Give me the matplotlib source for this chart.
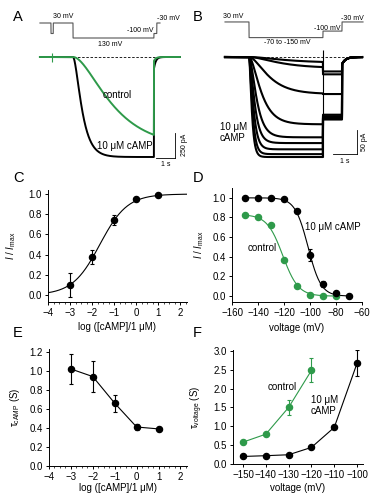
import numpy as np
import matplotlib.pyplot as plt
from matplotlib.ticker import FormatStrFormatter, MultipleLocator

plt.rcParams['font.family'] = ['Liberation Sans', 'DejaVu Sans']
plt.rcParams['mathtext.fontset'] = 'custom'
plt.rcParams['mathtext.rm'] = 'Liberation Sans'
plt.rcParams['mathtext.it'] = 'Liberation Sans:italic'
plt.rcParams['font.size'] = 7

GREEN = '#2e9a4a'
FS = 7

# A: currents at -130 mV (pA, s)
a_amp = [1000, 900]          # 10 uM cAMP, control
a_tau = [0.37, 1.6]
a_tail = [120, 40]
a_on, a_off = 1.0, 5.26      # step times (s)
a_pre = -0.1                 # short pre-pulse

# B: family of currents, steps -70 to -150 mV (pA, s)
b_amp = [12, 23, 77, 140, 167, 179, 192, 202, 208]
b_tau = [1.2, 1.0, 0.65, 0.4, 0.25, 0.18, 0.14, 0.11, 0.09]
b_tail = [30, 36, 77, 120, 123, 125, 127, 128, 130]
b_on, b_off, b_end = 1.0, 4.08, 4.875

# C: cAMP dose response
c_log = [-3, -2, -1, 0, 1]
c_norm = [0.10, 0.38, 0.74, 0.95, 0.99]
c_err = [0.12, 0.07, 0.05, 0.02, 0.01]
c_mid, c_hill = -1.65, 0.70

# D: activation curves
d_volt = [-150, -140, -130, -120, -110, -100, -90, -80, -70]
d_camp = [1.0, 1.0, 1.0, 0.99, 0.87, 0.42, 0.12, 0.03, 0.0]
d_camp_err = [0.0, 0.0, 0.0, 0.01, 0.02, 0.06, 0.03, 0.01, 0.0]
d_volt_ctrl = [-150, -140, -130, -120, -110, -100, -90, -80]
d_ctrl = [0.83, 0.81, 0.72, 0.37, 0.10, 0.01, 0.0, 0.0]
d_fit_camp = (1.0, -101.5, 5.0)
d_fit_ctrl = (0.83, -121.0, 6.0)

# E: time constant vs cAMP
e_log = [-3, -2, -1, 0, 1]
e_tau = [1.02, 0.94, 0.66, 0.41, 0.39]
e_err = [0.16, 0.16, 0.09, 0.035, 0.02]

# F: time constant vs voltage
f_volt_ctrl = [-150, -140, -130, -120]
f_tau_ctrl = [0.58, 0.79, 1.50, 2.48]
f_err_ctrl = [0.04, 0.04, 0.20, 0.32]
f_volt_camp = [-150, -140, -130, -120, -110, -100]
f_tau_camp = [0.20, 0.22, 0.245, 0.44, 0.97, 2.67]
f_err_camp = [0.02, 0.02, 0.02, 0.03, 0.05, 0.35]

W, H = 384, 500
fig = plt.figure(figsize=(W / 100, H / 100), dpi=100)


def add_ax(x0, y0, x1, y1):
    return fig.add_axes([x0 / W, 1 - y1 / H, (x1 - x0) / W, (y1 - y0) / H])


def ptext(x, y, s, **kw):
    kw.setdefault('ha', 'center')
    kw.setdefault('va', 'center')
    fig.text(x / W, 1 - y / H, s, **kw)


def style(ax):
    ax.spines['top'].set_visible(False)
    ax.spines['right'].set_visible(False)
    ax.spines['left'].set_linewidth(0.7)
    ax.spines['bottom'].set_linewidth(0.7)
    ax.tick_params(direction='out', length=2.5, width=0.7, labelsize=FS, pad=2)
    ax.tick_params(which='minor', direction='out', length=1.5, width=0.5)


def hh(t, t0, amp, tau):
    s = np.clip(t - t0, 0, None)
    return -amp * (1 - np.exp(-s / tau)) ** 2


# ---- A protocol ----
ax = add_ax(35, 5, 190, 50)
ax.axis('off')
ax.set_xlim(-1.0, 7.16)
ax.set_ylim(-210, 90)
tp = np.linspace(-0.74, 5.58, 2000)
vp = np.full_like(tp, -30.0)
vp[(tp >= a_pre - 0.06) & (tp < a_pre + 0.06)] = -100
vp[(tp >= a_on) & (tp < a_off)] = -130
vp[(tp >= a_off) & (tp < a_off + 0.15)] = -100
ax.plot(tp, vp, color='#555555', lw=0.8)

# ---- A traces ----
ax = add_ax(35, 45, 190, 170)
ax.axis('off')
ax.set_xlim(-1.0, 7.16)
ax.set_ylim(-1130, 120)
t = np.linspace(-0.74, 6.63, 3000)
ax.plot([-0.74, 6.63], [0, 0], color='k', lw=0.6, ls=(0, (3, 2)))
for amp, tau, tail, col in zip(a_amp, a_tau, a_tail, ['k', GREEN]):
    cur = hh(t, a_on, amp, tau)
    after = t >= a_off
    cur[after] = -tail * np.exp(-(t[after] - a_off) / 0.1)
    ax.plot(t, cur, color=col, lw=1.4)
ax.vlines(a_pre, -50, 40, color=GREEN, lw=0.8)
# scale bars
ax.plot([6.37, 6.37], [-760, -1010], color='k', lw=0.6)
ax.plot([5.37, 6.37], [-1010, -1010], color='k', lw=0.6)
ptext(184, 145, '250 pA', rotation=90, fontsize=5)
ptext(166, 164, '1 s', fontsize=5)
ptext(117, 95, 'control', fontsize=FS)
ptext(125, 146, '10 μM cAMP', fontsize=FS)
ptext(63, 17, '30 mV', fontsize=5)
ptext(140, 30, '-100 mV', fontsize=5)
ptext(168, 18, '-30 mV', fontsize=5)
ptext(110, 45, '130 mV', fontsize=5)

# ---- B protocol ----
ax = add_ax(215, 5, 375, 50)
ax.axis('off')
ax.set_xlim(-0.417, 6.25)
ax.set_ylim(-245, 100)
tp = np.linspace(0.0, 5.75, 2000)
vp = np.full_like(tp, -30.0)
vp[(tp >= b_on) & (tp < b_off)] = -150
vp[(tp >= b_off) & (tp < b_end)] = -100
ax.plot(tp, vp, color='#555555', lw=0.8)
ptext(233, 16, '30 mV', fontsize=5)
ptext(287, 43, '-70 to -150 mV', fontsize=5)
ptext(327, 28, '-100 mV', fontsize=5)
ptext(352, 18, '-30 mV', fontsize=5)

# ---- B traces ----
ax = add_ax(215, 45, 375, 170)
ax.axis('off')
ax.set_xlim(-0.417, 6.25)
ax.set_ylim(-235, 25)
t = np.linspace(0.0, 5.71, 3000)
ax.plot([0.0, 5.71], [0, 0], color='k', lw=0.6, ls=(0, (3, 2)))
for amp, tau, tail in zip(b_amp, b_tau, b_tail):
    cur = hh(t, b_on, amp, tau)
    tl = (t >= b_off) & (t < b_end)
    cur[tl] = -tail
    after = t >= b_end
    cur[after] = -15 * np.exp(-(t[after] - b_end) / 0.15)
    ax.plot(t, cur, color='k', lw=1.5)
ax.vlines(b_off, -208, 15, color='k', lw=0.8)
ax.plot([5.5, 5.5], [-152, -202], color='k', lw=0.6)
ax.plot([4.5, 5.5], [-202, -202], color='k', lw=0.6)
ptext(365, 142, '50 pA', rotation=90, fontsize=5)
ptext(345, 161, '1 s', fontsize=5)
ptext(220, 127, '10 μM', fontsize=FS, ha='left')
ptext(220, 138, 'cAMP', fontsize=FS, ha='left')

# ---- C ----
ax = add_ax(48, 190, 187, 302)
style(ax)
xf = np.linspace(-4, 2.3, 300)
ax.plot(xf, 1 / (1 + 10 ** ((c_mid - xf) * c_hill)), color='k', lw=0.8)
ax.errorbar(c_log, c_norm, yerr=c_err, fmt='o', color='k', ms=4.4,
            elinewidth=0.8, capsize=1.5, capthick=0.8, zorder=3)
ax.set_xlim(-4, 2.3)
ax.set_ylim(-0.07, 1.04)
ax.set_xticks(range(-4, 3))
ax.set_yticks(np.arange(0, 1.01, 0.2))
ax.yaxis.set_major_formatter(FormatStrFormatter('%.1f'))
ax.xaxis.set_minor_locator(MultipleLocator(0.25))
ax.set_xlabel('log ([cAMP]/1 μM)', fontsize=FS)
ax.set_ylabel(r'$I$ / $I_{\mathrm{max}}$', fontsize=FS)
ax.xaxis.set_label_coords(0.5, -0.18)
ax.yaxis.set_label_coords(-0.216, 0.5)

# ---- D ----
ax = add_ax(232, 188, 362, 302)
style(ax)
for (amp, vh, k), col, v in [(d_fit_camp, 'k', (-150, -70)), (d_fit_ctrl, GREEN, (-150, -80))]:
    vf = np.linspace(v[0], v[1], 300)
    ax.plot(vf, amp / (1 + np.exp((vf - vh) / k)), color=col, lw=0.8)
ax.plot(d_volt_ctrl, d_ctrl, 'o', color=GREEN, ms=4.4, zorder=3)
ax.errorbar(d_volt, d_camp, yerr=d_camp_err, fmt='o', color='k', ms=4.4,
            elinewidth=0.8, capsize=1.5, capthick=0.8, zorder=4)
ax.set_xlim(-160, -60)
ax.set_ylim(-0.06, 1.1)
ax.set_xticks(range(-160, -59, 20))
ax.set_yticks(np.arange(0, 1.01, 0.2))
ax.yaxis.set_major_formatter(FormatStrFormatter('%.1f'))
ax.set_xlabel('voltage (mV)', fontsize=FS)
ax.set_ylabel(r'$I$ / $I_{\mathrm{max}}$', fontsize=FS)
ax.xaxis.set_label_coords(0.5, -0.184)
ax.yaxis.set_label_coords(-0.2, 0.5)
ptext(333, 227, '10 μM cAMP', fontsize=FS)
ptext(262, 248, 'control', fontsize=FS)

# ---- E ----
ax = add_ax(49, 349, 187, 466)
style(ax)
ax.errorbar(e_log, e_tau, yerr=e_err, fmt='o-', color='k', ms=4.4, lw=0.8,
            elinewidth=0.8, capsize=1.5, capthick=0.8)
ax.set_xlim(-4, 2.3)
ax.set_ylim(0, 1.23)
ax.set_xticks(range(-4, 3))
ax.set_yticks(np.arange(0, 1.21, 0.2))
ax.yaxis.set_major_formatter(FormatStrFormatter('%.1f'))
ax.xaxis.set_minor_locator(MultipleLocator(0.25))
ax.set_xlabel('log ([cAMP]/1 μM)', fontsize=FS)
ax.set_ylabel(r'τ$_{\mathrm{cAMP}}$ (S)', fontsize=FS)
ax.xaxis.set_label_coords(0.5, -0.145)
ax.yaxis.set_label_coords(-0.197, 0.5)

# ---- F ----
ax = add_ax(233, 350, 363, 464)
style(ax)
ax.errorbar(f_volt_ctrl, f_tau_ctrl, yerr=f_err_ctrl, fmt='o-', color=GREEN, ms=4.4,
            lw=0.8, elinewidth=0.8, capsize=1.5, capthick=0.8)
ax.errorbar(f_volt_camp, f_tau_camp, yerr=f_err_camp, fmt='o-', color='k', ms=4.4,
            lw=0.8, elinewidth=0.8, capsize=1.5, capthick=0.8)
ax.set_xlim(-154.4, -97.4)
ax.set_ylim(0, 3.02)
ax.set_xticks(range(-150, -99, 10))
ax.set_yticks(np.arange(0, 3.01, 0.5))
ax.yaxis.set_major_formatter(FormatStrFormatter('%.1f'))
ax.set_xlabel('voltage (mV)', fontsize=FS)
ax.set_ylabel(r'τ$_{\mathrm{voltage}}$ (S)', fontsize=FS)
ax.xaxis.set_label_coords(0.5, -0.167)
ax.yaxis.set_label_coords(-0.215, 0.5)
ptext(282, 387, 'control', fontsize=FS)
ptext(311, 400, '10 μM', fontsize=FS, ha='left')
ptext(311, 411, 'cAMP', fontsize=FS, ha='left')

# panel letters
for lab, x, y in [('A', 18, 17), ('B', 198, 17), ('C', 18, 178),
                  ('D', 198, 178), ('E', 18, 333), ('F', 197, 333)]:
    ptext(x, y, lab, fontsize=10.5)

fig.savefig('out.png', dpi=100)
